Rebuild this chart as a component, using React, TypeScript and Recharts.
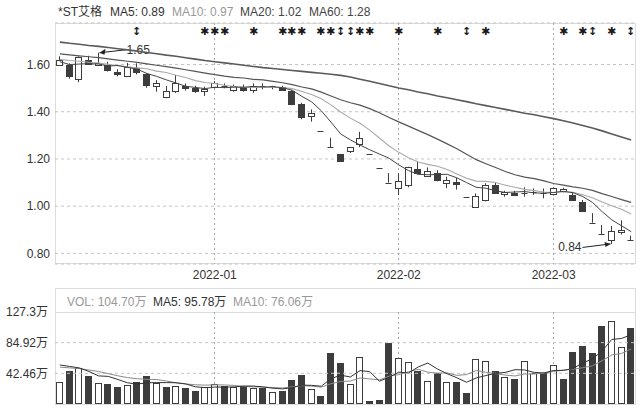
import React from "react";
import { ComposedChart, Bar, Line, XAxis, YAxis, CartesianGrid, ReferenceLine } from "recharts";

const FONT = '"Liberation Sans", Arial, "Noto Sans CJK SC", sans-serif';
const INK = "#3d3d3d";

const stockName = "*ST艾格";

const dates = [
  "2021-12-10","2021-12-13","2021-12-14","2021-12-15","2021-12-16","2021-12-17","2021-12-20","2021-12-21","2021-12-22","2021-12-23",
  "2021-12-24","2021-12-27","2021-12-28","2021-12-29","2021-12-30","2021-12-31","2022-01-04","2022-01-05","2022-01-06","2022-01-07",
  "2022-01-10","2022-01-11","2022-01-12","2022-01-13","2022-01-14","2022-01-17","2022-01-18","2022-01-19","2022-01-20","2022-01-21",
  "2022-01-24","2022-01-25","2022-01-26","2022-01-27","2022-01-28","2022-02-07","2022-02-08","2022-02-09","2022-02-10","2022-02-11",
  "2022-02-14","2022-02-15","2022-02-16","2022-02-17","2022-02-18","2022-02-21","2022-02-22","2022-02-23","2022-02-24","2022-02-25",
  "2022-02-28","2022-03-01","2022-03-02","2022-03-03","2022-03-04","2022-03-07","2022-03-08","2022-03-09","2022-03-10","2022-03-11",
];

const opens = [
  1.600,1.598,1.535,1.620,1.600,1.600,1.570,1.551,1.586,1.558,
  1.506,1.464,1.485,1.509,1.502,1.485,1.503,1.511,1.492,1.503,
  1.492,1.510,1.510,1.506,1.489,1.433,1.379,1.320,1.250,1.220,
  1.235,1.262,1.220,1.160,1.100,1.078,1.089,1.156,1.128,1.139,
  1.097,1.104,1.040,1.000,1.026,1.090,1.050,1.057,1.054,1.055,
  1.056,1.051,1.063,1.047,1.019,0.930,0.880,0.856,0.893,0.855,
];
const highs = [
  1.635,1.605,1.635,1.637,1.650,1.612,1.580,1.607,1.605,1.562,
  1.534,1.509,1.556,1.520,1.510,1.506,1.530,1.520,1.515,1.515,
  1.520,1.520,1.510,1.510,1.492,1.438,1.410,1.320,1.290,1.220,
  1.250,1.315,1.220,1.160,1.140,1.139,1.167,1.188,1.164,1.152,
  1.125,1.120,1.040,1.054,1.097,1.100,1.065,1.065,1.080,1.075,
  1.075,1.080,1.078,1.057,1.026,0.970,0.920,0.916,0.940,0.875,
];
const lows = [
  1.595,1.540,1.525,1.598,1.595,1.570,1.550,1.548,1.558,1.502,
  1.485,1.457,1.480,1.490,1.480,1.467,1.499,1.500,1.485,1.485,
  1.480,1.495,1.495,1.490,1.428,1.368,1.358,1.320,1.250,1.188,
  1.225,1.250,1.220,1.160,1.100,1.047,1.080,1.135,1.125,1.105,
  1.076,1.070,1.040,1.000,1.020,1.055,1.040,1.045,1.040,1.047,
  1.033,1.045,1.058,1.024,0.978,0.930,0.880,0.840,0.880,0.855,
];
const closes = [
  1.620,1.550,1.630,1.605,1.607,1.580,1.560,1.588,1.567,1.513,
  1.520,1.489,1.520,1.499,1.488,1.495,1.520,1.506,1.509,1.492,
  1.510,1.507,1.510,1.492,1.436,1.379,1.393,1.320,1.250,1.190,
  1.250,1.287,1.220,1.160,1.100,1.108,1.167,1.139,1.149,1.108,
  1.111,1.094,1.040,1.045,1.090,1.057,1.060,1.047,1.056,1.058,
  1.054,1.075,1.071,1.026,0.980,0.930,0.880,0.895,0.900,0.855,
];

const ma5 = [
  1.612,1.600,1.602,1.604,1.602,1.594,1.596,1.588,1.580,1.562,
  1.550,1.535,1.522,1.508,1.503,1.498,1.504,1.502,1.504,1.504,
  1.507,1.505,1.506,1.502,1.491,1.465,1.442,1.404,1.356,1.306,
  1.281,1.259,1.239,1.221,1.203,1.175,1.151,1.135,1.133,1.134,
  1.135,1.120,1.100,1.080,1.076,1.065,1.058,1.060,1.062,1.056,
  1.055,1.058,1.063,1.057,1.041,1.016,0.977,0.942,0.917,0.892,
];
const ma10 = [
  1.622,1.617,1.614,1.610,1.606,1.601,1.595,1.590,1.586,1.582,
  1.572,1.566,1.555,1.545,1.532,1.524,1.520,1.512,1.507,1.504,
  1.503,1.504,1.504,1.503,1.498,1.486,1.473,1.455,1.429,1.399,
  1.373,1.351,1.322,1.289,1.255,1.228,1.205,1.187,1.177,1.169,
  1.155,1.136,1.118,1.106,1.105,1.100,1.089,1.080,1.071,1.066,
  1.060,1.058,1.061,1.059,1.048,1.036,1.018,1.002,0.987,0.967,
];
const ma20 = [
  1.645,1.641,1.637,1.633,1.629,1.624,1.619,1.614,1.609,1.603,
  1.597,1.591,1.585,1.578,1.571,1.564,1.557,1.551,1.546,1.543,
  1.537,1.535,1.529,1.523,1.515,1.505,1.497,1.483,1.467,1.451,
  1.438,1.428,1.413,1.396,1.376,1.357,1.339,1.321,1.303,1.284,
  1.264,1.243,1.220,1.197,1.180,1.164,1.147,1.133,1.123,1.117,
  1.107,1.096,1.089,1.082,1.076,1.067,1.053,1.041,1.028,1.016,
];
const ma60 = [
  1.695,1.690,1.686,1.681,1.677,1.672,1.667,1.662,1.657,1.651,
  1.646,1.640,1.635,1.629,1.623,1.617,1.612,1.607,1.602,1.597,
  1.592,1.587,1.583,1.579,1.575,1.571,1.567,1.563,1.559,1.554,
  1.547,1.538,1.529,1.520,1.510,1.501,1.493,1.484,1.476,1.467,
  1.459,1.451,1.443,1.434,1.426,1.418,1.410,1.402,1.394,1.387,
  1.379,1.371,1.362,1.352,1.342,1.331,1.319,1.306,1.293,1.280,
];

const volumes = [
  30.8,45.6,49.3,39.2,29.5,27.6,24.0,26.3,30.4,38.7,
  28.6,24.0,25.3,22.6,18.4,23.0,27.6,25.3,23.5,24.9,
  22.6,21.7,17.0,18.4,33.2,40.1,20.3,11.1,70.9,57.1,
  27.6,64.5,3.7,5.1,83.9,63.1,58.5,45.6,32.2,42.4,
  30.8,30.4,14.7,61.7,59.4,45.6,36.9,34.1,59.4,42.4,
  42.4,53.5,35.0,72.3,80.6,70.9,107.8,115.1,79.2,104.7,
];
const volMa5 = [
  54,52,50,45,38.9,38.2,33.9,29.3,27.6,29.4,
  29.6,29.6,29.4,27.8,23.8,22.7,23.4,23.4,23.6,24.9,
  24.8,23.6,21.9,20.9,22.6,26.1,25.8,24.6,35.1,39.9,
  37.4,46.2,44.8,31.6,37.0,44.1,42.9,51.2,56.7,48.4,
  41.9,36.3,30.1,36.0,39.4,42.4,43.7,47.5,47.1,43.7,
  43.0,46.4,46.5,49.1,56.8,62.5,73.3,89.3,90.7,95.78,
];
const volMa10 = [
  51,50,49,47,45,42,39,36.5,35,34.1,
  33.9,31.8,29.4,27.7,26.6,26.1,26.5,26.4,25.7,24.3,
  23.7,23.5,22.7,22.2,23.7,25.4,24.7,23.3,28.0,31.2,
  31.7,36.0,34.7,33.4,38.4,40.7,44.6,48.0,44.1,42.7,
  43.0,39.6,40.7,46.3,43.9,42.1,40.0,38.8,41.5,41.5,
  42.7,45.0,47.0,48.1,50.2,52.8,59.8,67.9,69.9,76.06,
];

const priceTicks = [0.8, 1.0, 1.2, 1.4, 1.6];
const priceDomain = [0.755, 1.776];
const volTicks = [0, 42.46, 84.92, 127.3];
const volGridLines = [42.46, 84.92];
const volDomain = [0, 127.3];

const signalIdx = [8, 15, 16, 17, 20, 23, 24, 25, 27, 28, 29, 30, 31, 32, 35, 39, 42, 44, 52, 54, 55, 57, 59];
const signalSym = ["↕","✱","✱","✱","✱","✱","✱","✱","✱","✱","↕","↕","✱","✱","✱","✱","↕","✱","✱","✱","↕","✱","↕"];

const isMonthStart = dates.map((d, i) => i > 0 && d.slice(0, 7) !== dates[i - 1].slice(0, 7));
const monthStarts = dates.filter((d, i) => isMonthStart[i]);

const table = dates.map((d, i) => ({
  date: d, idx: i,
  open: opens[i], high: highs[i], low: lows[i], close: closes[i],
  range: [lows[i], highs[i]],
  ma5: ma5[i], ma10: ma10[i], ma20: ma20[i], ma60: ma60[i],
  month: isMonthStart[i],
  sig: signalIdx.indexOf(i) >= 0 ? signalSym[signalIdx.indexOf(i)] : "",
}));
const volTable = dates.map((d, i) => ({
  date: d, vol: volumes[i],
  up: i === 0 ? closes[0] >= opens[0] : closes[i] >= closes[i - 1],
  ma5: volMa5[i], ma10: volMa10[i],
  month: isMonthStart[i],
}));

const hiIdx = highs.indexOf(Math.max(...highs));
const loIdx = lows.indexOf(Math.min(...lows));
const last = dates.length - 1;

function colX(x: number, width: number) {
  const left = Math.round(x) + 0.5;
  const w = Math.max(2, Math.round(width) - 1);
  const cx = left + Math.floor(w / 2);
  return { left, w, cx };
}

function Candle(props: any) {
  const { x, y, width, height, payload, background } = props;
  if (!payload) return null;
  const { open, close, high, low, idx } = payload;
  const pTop = background && typeof background.y === "number" ? background.y : 23;
  const pH = background && typeof background.height === "number" ? background.height : 241;
  const yTop = Math.min(y, y + height);
  const h = Math.abs(height);
  const span = high - low;
  const toY = (p: number) => (span > 0 ? yTop + ((high - p) / span) * h : yTop);
  const { left, w, cx } = colX(x, width);
  const yo = toY(open);
  const yc = toY(close);
  const top = Math.min(yo, yc);
  const bot = Math.max(yo, yc);
  const up = close > open;
  const parts: any[] = [];
  if (payload.month) {
    parts.push(<line key="m" x1={cx} x2={cx} y1={pTop} y2={pTop + pH} stroke="#a8a8a8" strokeDasharray="2 3" />);
  }
  if (payload.sig) {
    parts.push(
      <text key="s" x={cx} y={pTop + 8} textAnchor="middle" dominantBaseline="central" fontSize={11} fontWeight="bold"
        fill="#1a1a1a" fontFamily='"DejaVu Sans", sans-serif'>{payload.sig}</text>
    );
  }
  parts.push(<line key="w" x1={cx} x2={cx} y1={yTop} y2={yTop + h} stroke={INK} strokeWidth={1} />);
  if (bot - top < 1.2) {
    const yy = Math.round(top) + 0.5;
    parts.push(<line key="b" x1={left} x2={left + w} y1={yy} y2={yy} stroke={INK} strokeWidth={1} />);
  } else {
    parts.push(
      <rect key="b" x={left} y={Math.round(top) + 0.5} width={w} height={Math.max(1, Math.round(bot - top))}
        fill={up ? "#ffffff" : INK} stroke={INK} strokeWidth={1} />
    );
  }
  if (idx === hiIdx) {
    const tx = cx + 28, ty = yTop - 3;
    parts.push(<line key="ah" x1={cx + 1} y1={yTop} x2={tx} y2={ty} stroke="#222" strokeWidth={1} />);
    parts.push(<path key="ahh" d={`M${cx + 1},${yTop} l6,-4 l-1,6 z`} fill="#222" />);
    parts.push(<text key="at" x={tx} y={ty} dominantBaseline="central" fontSize={12} fill="#333" fontFamily={FONT}>{high.toFixed(2)}</text>);
  }
  if (idx === loIdx) {
    const yb = yTop + h;
    const tx = cx - 29, ty = yb + 3.5;
    parts.push(<line key="al" x1={tx} y1={ty} x2={cx - 1} y2={yb} stroke="#222" strokeWidth={1} />);
    parts.push(<path key="alh" d={`M${cx - 1},${yb} l-6,-2 l1,5 z`} fill="#222" />);
    parts.push(<text key="lt" x={tx - 1} y={ty} textAnchor="end" dominantBaseline="central" fontSize={12} fill="#333" fontFamily={FONT}>{low.toFixed(2)}</text>);
  }
  return <g>{parts}</g>;
}

function VolBar(props: any) {
  const { x, y, width, height, payload, background } = props;
  if (!payload) return null;
  const pTop = background && typeof background.y === "number" ? background.y : 312;
  const pH = background && typeof background.height === "number" ? background.height : 92;
  const { left, w, cx } = colX(x, width);
  const parts: any[] = [];
  if (payload.month) {
    parts.push(<line key="m" x1={cx} x2={cx} y1={pTop} y2={pTop + pH} stroke="#a8a8a8" strokeDasharray="2 3" />);
  }
  if (height > 0) {
    const top = Math.round(y) + 0.5;
    const hh = Math.max(1, Math.round(y + height) - Math.round(y) - 1);
    parts.push(<rect key="r" x={left} y={top} width={w} height={hh} fill={payload.up ? "#ffffff" : INK} stroke={INK} strokeWidth={1} />);
  }
  return <g>{parts}</g>;
}

const txt = (left: number, top: number, color: string, s: string, key: string) => (
  <span key={key} style={{ position: "absolute", left, top, color, fontSize: 12, lineHeight: "14px", whiteSpace: "nowrap" }}>{s}</span>
);

export default function App() {
  return (
    <div style={{ position: "absolute", left: 0, top: 0, width: 640, height: 410, background: "#fff", fontFamily: FONT, overflow: "hidden" }}>
      <div style={{ position: "absolute", left: 55, top: 23, width: 581, height: 241, border: "1px solid #dcdcdc", boxSizing: "border-box" }} />
      <div style={{ position: "absolute", left: 55, top: 288, width: 581, height: 117, border: "1px solid #dcdcdc", boxSizing: "border-box" }} />
      <div style={{ position: "absolute", left: 55, top: 312, width: 581, height: 1, background: "#dcdcdc" }} />

      {txt(58, 5, "#333", stockName, "n")}
      {txt(110, 5, "#333", `MA5: ${ma5[last].toFixed(2)}`, "m5")}
      {txt(172, 5, "#999", `MA10: ${ma10[last].toFixed(2)}`, "m10")}
      {txt(240, 5, "#444", `MA20: ${ma20[last].toFixed(2)}`, "m20")}
      {txt(309, 5, "#444", `MA60: ${ma60[last].toFixed(2)}`, "m60")}

      {txt(67, 295, "#999", `VOL: ${volumes[last].toFixed(2)}万`, "v")}
      {txt(153, 295, "#333", `MA5: ${volMa5[last].toFixed(2)}万`, "v5")}
      {txt(233, 295, "#999", `MA10: ${volMa10[last].toFixed(2)}万`, "v10")}

      <div style={{ position: "absolute", left: 0, top: 0 }}>
        <ComposedChart width={640} height={288} data={table} margin={{ top: 23, right: 4, bottom: 4, left: 0 }} style={{ fontFamily: FONT }}>
          <CartesianGrid vertical={false} stroke="#c4c4c4" strokeDasharray="3 3" />
          <XAxis dataKey="date" ticks={monthStarts} interval={0} tickFormatter={(v: string) => v.slice(0, 7)}
            tickLine={false} axisLine={false} tickSize={4} height={20} tick={{ fontSize: 12, fill: "#333" }} />
          <YAxis domain={priceDomain} ticks={priceTicks} allowDataOverflow width={55} tickLine={false} axisLine={false}
            tickSize={0} tickMargin={5} tickFormatter={(v: number) => v.toFixed(2)} tick={{ fontSize: 12, fill: "#333" }} />
          <Bar dataKey="range" barSize={7} shape={(p: any) => <Candle {...p} />} isAnimationActive={false} />
          <Line dataKey="ma60" stroke="#5a5a5a" strokeWidth={1.6} dot={false} isAnimationActive={false} />
          <Line dataKey="ma20" stroke="#555" strokeWidth={1.2} dot={false} isAnimationActive={false} />
          <Line dataKey="ma10" stroke="#aaa" strokeWidth={1.1} dot={false} isAnimationActive={false} />
          <Line dataKey="ma5" stroke="#444" strokeWidth={1} dot={false} isAnimationActive={false} />
        </ComposedChart>
      </div>

      <div style={{ position: "absolute", left: 0, top: 288 }}>
        <ComposedChart width={640} height={122} data={volTable} margin={{ top: 24, right: 4, bottom: 6, left: 0 }} style={{ fontFamily: FONT }}>
          <XAxis dataKey="date" hide />
          <YAxis domain={volDomain} ticks={volTicks} allowDataOverflow width={55} tickLine={false} axisLine={false}
            tickSize={0} tickMargin={7} tickFormatter={(v: number) => (v === 0 ? "0" : `${v}万`)} tick={{ fontSize: 12, fill: "#333" }} />
          {volGridLines.map((v) => (
            <ReferenceLine key={v} y={v} stroke="#c4c4c4" strokeDasharray="3 3" />
          ))}
          <Bar dataKey="vol" barSize={7} shape={(p: any) => <VolBar {...p} />} isAnimationActive={false} />
          <Line dataKey="ma10" stroke="#8a8a8a" strokeWidth={1} dot={false} isAnimationActive={false} />
          <Line dataKey="ma5" stroke="#333" strokeWidth={1} dot={false} isAnimationActive={false} />
        </ComposedChart>
      </div>
    </div>
  );
}
